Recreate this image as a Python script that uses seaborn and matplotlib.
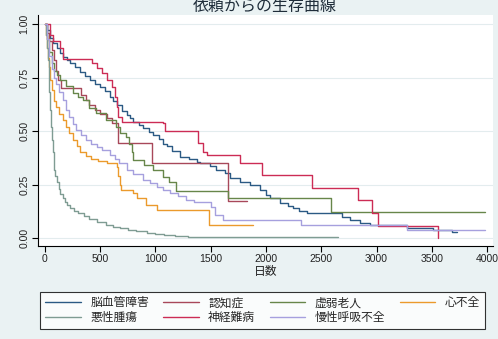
import numpy as np
import pandas as pd
import matplotlib
matplotlib.use("Agg")
import matplotlib.pyplot as plt
import seaborn as sns

# Kaplan-Meier survival estimates by diagnosis (days since referral)
cvd_t = [0, 20, 45, 75, 106, 135, 166, 200, 226, 270, 317, 360, 407, 450, 498, 540, 588, 620, 649, 700,
         739, 770, 799, 850, 890, 940, 980, 1030, 1071, 1100, 1150, 1222, 1300, 1373, 1403, 1493, 1550,
         1629, 1674, 1765, 1855, 1946, 2000, 2036, 2127, 2200, 2247, 2300, 2368, 2685, 2760, 2850, 2941,
         3272, 3514, 3680, 3725]
cvd_s = [1.0, 0.97, 0.933, 0.91, 0.886, 0.865, 0.847, 0.83, 0.816, 0.797, 0.778, 0.758, 0.738, 0.722,
         0.707, 0.685, 0.66, 0.64, 0.621, 0.595, 0.575, 0.56, 0.544, 0.528, 0.513, 0.497, 0.481, 0.462,
         0.44, 0.43, 0.405, 0.38, 0.368, 0.357, 0.35, 0.335, 0.318, 0.305, 0.279, 0.263, 0.248, 0.224,
         0.2, 0.185, 0.162, 0.15, 0.139, 0.127, 0.115, 0.1, 0.084, 0.07, 0.061, 0.045, 0.04, 0.03, 0.03]

dem_t = [0, 20, 40, 60, 80, 100, 120, 145, 330, 371, 401, 450, 500, 560, 610, 664, 965, 1659, 1825]
dem_s = [1.0, 0.96, 0.92, 0.88, 0.83, 0.78, 0.74, 0.70, 0.67, 0.645, 0.62, 0.60, 0.58, 0.56, 0.536,
         0.443, 0.349, 0.175, 0.175]

frail_t = [0, 20, 40, 60, 80, 110, 140, 190, 250, 300, 340, 400, 460, 550, 640, 680, 730, 760, 790,
           800, 900, 980, 1070, 1120, 1190, 1660, 2590, 3980]
frail_s = [1.0, 0.93, 0.87, 0.82, 0.78, 0.76, 0.74, 0.71, 0.676, 0.66, 0.645, 0.606, 0.583, 0.551,
           0.52, 0.49, 0.47, 0.44, 0.40, 0.364, 0.34, 0.318, 0.287, 0.26, 0.22, 0.185, 0.12, 0.12]

hf_t = [0, 10, 20, 30, 40, 50, 65, 80, 100, 130, 160, 190, 215, 250, 290, 320, 370, 420, 480, 560,
        650, 665, 675, 685, 800, 830, 910, 1010, 1480, 1885]
hf_s = [1.0, 0.95, 0.89, 0.84, 0.80, 0.74, 0.69, 0.64, 0.61, 0.58, 0.55, 0.52, 0.49, 0.46, 0.43, 0.40,
        0.385, 0.37, 0.36, 0.35, 0.33, 0.29, 0.25, 0.225, 0.21, 0.185, 0.155, 0.13, 0.06, 0.06]

cancer_t = [0, 8, 16, 25, 33, 40, 48, 55, 63, 70, 78, 85, 95, 110, 125, 140, 160, 180, 200, 230, 260,
            300, 350, 400, 470, 550, 620, 680, 750, 820, 920, 1000, 1080, 1180, 1290, 2650]
cancer_s = [1.0, 0.95, 0.89, 0.83, 0.76, 0.68, 0.60, 0.52, 0.46, 0.40, 0.36, 0.32, 0.29, 0.26, 0.23,
            0.205, 0.185, 0.17, 0.155, 0.14, 0.128, 0.118, 0.105, 0.09, 0.075, 0.06, 0.052, 0.045,
            0.038, 0.032, 0.024, 0.019, 0.014, 0.01, 0.006, 0.006]

neuro_t = [0, 45, 75, 136, 166, 422, 468, 513, 558, 603, 633, 649, 664, 694, 1071, 1086, 1387, 1433,
           1463, 1765, 1961, 2413, 2835, 2957, 3017, 3559, 3560]
neuro_s = [1.0, 0.948, 0.92, 0.886, 0.835, 0.816, 0.793, 0.77, 0.738, 0.707, 0.66, 0.614, 0.567,
           0.544, 0.537, 0.502, 0.445, 0.403, 0.388, 0.349, 0.294, 0.232, 0.178, 0.115, 0.058, 0.0, 0.0]

copd_t = [0, 20, 40, 60, 80, 100, 130, 160, 190, 220, 250, 280, 330, 370, 420, 470, 520, 590, 630, 670,
          740, 800, 890, 950, 1010, 1070, 1130, 1200, 1280, 1350, 1500, 1540, 1610, 2320, 3280, 3980]
copd_s = [1.0, 0.93, 0.85, 0.79, 0.75, 0.72, 0.68, 0.645, 0.60, 0.567, 0.535, 0.505, 0.48, 0.458, 0.44,
          0.425, 0.41, 0.388, 0.37, 0.35, 0.32, 0.30, 0.27, 0.255, 0.24, 0.225, 0.21, 0.195, 0.178, 0.17,
          0.146, 0.107, 0.084, 0.061, 0.04, 0.04]

groups = ["脳血管障害", "認知症", "虚弱老人", "心不全", "悪性腫瘍", "神経難病", "慢性呼吸不全"]
series = [(cvd_t, cvd_s), (dem_t, dem_s), (frail_t, frail_s), (hf_t, hf_s),
          (cancer_t, cancer_s), (neuro_t, neuro_s), (copd_t, copd_s)]
colors = ["#2b5a84", "#a8485a", "#67864a", "#eb9a2c", "#7f9c93", "#cc2c55", "#a6a0de"]

df = pd.concat(
    [pd.DataFrame({"日数": t, "生存率": s, "群": g}) for g, (t, s) in zip(groups, series)],
    ignore_index=True,
)

bg = "#eaf2f3"
sns.set_theme(style="white")
plt.rcParams["font.family"] = ["Liberation Sans", "Noto Sans CJK JP", "DejaVu Sans"]

fig = plt.figure(figsize=(4.98, 3.39), dpi=100, facecolor=bg)
W, H = 498, 339
ax = fig.add_axes([38 / W, 1 - 246 / H, (493 - 38) / W, (246 - 15) / H])
ax.set_facecolor("white")

sns.lineplot(data=df, x="日数", y="生存率", hue="群", hue_order=groups, palette=colors,
             estimator=None, drawstyle="steps-post", linewidth=1.0, ax=ax, legend=True)

ax.set_xlim(-63, 4054)
ax.set_ylim(-0.037, 1.042)
ax.set_xticks(np.arange(0, 4001, 500))
ax.set_yticks([0, 0.25, 0.5, 0.75, 1.0])
ax.set_yticklabels(["0.00", "0.25", "0.50", "0.75", "1.00"], rotation=90, va="center")
ax.tick_params(axis="both", direction="out", length=4, width=0.8, color="black",
               labelsize=7.5, labelcolor="#222222", pad=2, left=True, bottom=True)
ax.yaxis.grid(True, color="#e3ecee", linewidth=0.8)
ax.xaxis.grid(False)
for side in ["top", "right"]:
    ax.spines[side].set_visible(False)
for side in ["left", "bottom"]:
    ax.spines[side].set_color("black")
    ax.spines[side].set_linewidth(0.8)

ax.set_ylabel("")
ax.set_xlabel("日数", fontsize=8.5, color="#222222", labelpad=1)
fig.text(265 / W, 1 - 6 / H, "依頼からの生存曲線", ha="center", va="center",
         fontsize=11.5, color="#1f2d3a")

handles, labels = ax.get_legend_handles_labels()
ax.get_legend().remove()
order = [0, 4, 1, 5, 2, 6, 3]
leg = fig.legend([handles[i] for i in order], [labels[i] for i in order], ncol=4,
                 loc="lower left", bbox_to_anchor=(40 / W, 1 - 329 / H, (485 - 40) / W, (329 - 288) / H),
                 mode="expand", frameon=True, fancybox=False, fontsize=8.5, handlelength=3.0,
                 handletextpad=0.8, borderaxespad=0, borderpad=0.45, labelspacing=0.2,
                 columnspacing=1.0)
leg.get_frame().set_edgecolor("black")
leg.get_frame().set_linewidth(0.8)
leg.get_frame().set_facecolor("white")
for line in leg.get_lines():
    line.set_linewidth(1.0)

fig.savefig("out.png", dpi=100, facecolor=bg)
